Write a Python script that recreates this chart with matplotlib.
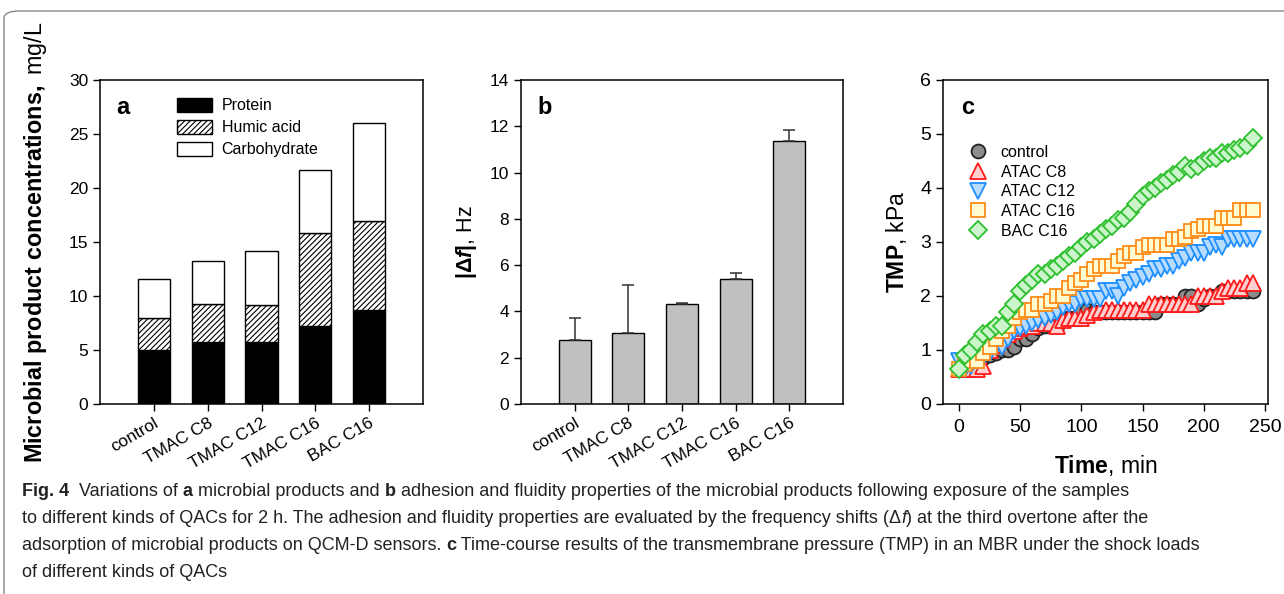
import matplotlib
matplotlib.use("Agg")
import matplotlib.pyplot as plt
from matplotlib.patches import FancyBboxPatch, Patch
import numpy as np

plt.rcParams['font.family'] = ['Liberation Sans', 'DejaVu Sans']
plt.rcParams['mathtext.fontset'] = 'custom'
plt.rcParams['mathtext.bf'] = 'Liberation Sans:bold'
plt.rcParams['mathtext.rm'] = 'Liberation Sans'
plt.rcParams['mathtext.it'] = 'Liberation Sans:italic:bold'
plt.rcParams['hatch.linewidth'] = 0.8

# ---------------- data ----------------
categories = ["control", "TMAC C8", "TMAC C12", "TMAC C16", "BAC C16"]
protein = [5.0, 5.7, 5.75, 7.25, 8.75]
humic = [3.0, 3.6, 3.45, 8.55, 8.15]
carbohydrate = [3.55, 3.9, 5.0, 5.9, 9.1]

df_vals = [2.75, 3.05, 4.3, 5.42, 11.35]
df_err = [0.95, 2.1, 0.05, 0.26, 0.5]

time_min = list(range(0, 245, 5))
tmp_control = [0.65, 0.7, 0.75, 0.8, 0.85, 0.9, 0.95, 1.0, 1.0, 1.05,
               1.2, 1.2, 1.3, 1.4, 1.45, 1.45, 1.45, 1.6, 1.6, 1.6,
               1.75, 1.75, 1.7, 1.7, 1.7, 1.7, 1.7, 1.7, 1.7, 1.7,
               1.7, 1.7, 1.7, 1.85, 1.85, 1.85, 1.85, 2.0, 2.0, 1.85,
               1.95, 2.0, 2.0, 2.1, 2.1, 2.1, 2.1, 2.1, 2.1]
tmp_atac_c8 = [0.65, 0.65, 0.65, 0.65, 0.7, 1.0, 1.1, 1.2, 1.3, 1.35,
               1.4, 1.45, 1.45, 1.5, 1.5, 1.5, 1.45, 1.55, 1.6, 1.6,
               1.6, 1.65, 1.7, 1.75, 1.75, 1.75, 1.75, 1.75, 1.75, 1.75,
               1.75, 1.85, 1.85, 1.85, 1.85, 1.85, 1.85, 1.85, 1.85, 2.0,
               2.0, 2.0, 2.0, 2.1, 2.15, 2.15, 2.15, 2.25, 2.25]
tmp_atac_c12 = [0.8, 0.65, 0.7, 0.8, 0.85, 0.95, 1.05, 1.05, 1.2, 1.35,
                1.4, 1.45, 1.5, 1.55, 1.6, 1.65, 1.7, 1.8, 1.85, 1.85,
                1.95, 1.95, 1.95, 1.95, 2.1, 2.1, 2.0, 2.15, 2.25, 2.3,
                2.35, 2.4, 2.5, 2.5, 2.55, 2.55, 2.65, 2.7, 2.8, 2.8,
                2.8, 2.9, 2.95, 2.9, 3.05, 3.05, 3.05, 3.05, 3.05]
tmp_atac_c16 = [0.65, 0.75, 0.8, 0.8, 0.95, 1.05, 1.2, 1.35, 1.45, 1.6,
                1.7, 1.75, 1.75, 1.85, 1.85, 1.9, 2.0, 2.0, 2.15, 2.25,
                2.3, 2.4, 2.5, 2.55, 2.55, 2.55, 2.65, 2.75, 2.8, 2.8,
                2.9, 2.95, 2.95, 2.95, 2.95, 3.05, 3.05, 3.1, 3.2, 3.25,
                3.3, 3.3, 3.3, 3.45, 3.45, 3.45, 3.6, 3.6, 3.6]
tmp_bac_c16 = [0.65, 0.9, 1.0, 1.15, 1.3, 1.35, 1.45, 1.45, 1.7, 1.85,
               2.1, 2.2, 2.3, 2.4, 2.4, 2.5, 2.55, 2.65, 2.75, 2.8,
               2.9, 3.0, 3.05, 3.15, 3.25, 3.3, 3.4, 3.45, 3.55, 3.7,
               3.85, 3.95, 4.0, 4.1, 4.15, 4.25, 4.3, 4.4, 4.35, 4.4,
               4.5, 4.55, 4.55, 4.65, 4.65, 4.7, 4.75, 4.8, 4.92]

series_labels = ["control", "ATAC C8", "ATAC C12", "ATAC C16", "BAC C16"]

# ---------------- figure ----------------
fig = plt.figure(figsize=(12.84, 5.94), dpi=100)

# card frame
frame = FancyBboxPatch((4 / 1284, -0.05), 1.2, 1.0 - 11 / 594 + 0.05,
                       boxstyle="round,pad=0,rounding_size=0.012",
                       transform=fig.transFigure, fill=False,
                       edgecolor="#888888", linewidth=1.0, zorder=0)
fig.patches.append(frame)

bottom = 1 - 404 / 594
height = 324 / 594
axA = fig.add_axes([100 / 1284, bottom, 323 / 1284, height])
axB = fig.add_axes([521 / 1284, bottom, 322 / 1284, height])
axC = fig.add_axes([943 / 1284, bottom, 325 / 1284, height])

x = np.arange(len(categories))
bw = 0.6
tick_fs = 12.5

def style(ax):
    ax.tick_params(direction='out', length=5, width=1, labelsize=tick_fs)
    for s in ax.spines.values():
        s.set_linewidth(1.1)

# ----- panel a -----
axA.bar(x, protein, bw, color='black', edgecolor='black', lw=1, label='Protein')
axA.bar(x, humic, bw, bottom=protein, color='white', edgecolor='black',
        hatch='//////', lw=1, label='Humic acid')
bot2 = [p + h for p, h in zip(protein, humic)]
axA.bar(x, carbohydrate, bw, bottom=bot2, color='white', edgecolor='black',
        lw=1, label='Carbohydrate')
axA.set_xlim(-1, 5)
axA.set_ylim(0, 30)
axA.set_yticks(range(0, 31, 5))
axA.set_xticks(x)
axA.set_xticklabels(categories, rotation=30, ha='right', rotation_mode='anchor',
                    fontsize=12.5)
style(axA)
axA.set_ylabel(r'$\mathbf{Microbial\ product\ concentrations,}$ mg/L',
               fontsize=16.8, labelpad=14)
axA.text(0.05, 0.95, 'a', transform=axA.transAxes, fontsize=17,
         fontweight='bold', va='top')
handlesA = [Patch(facecolor='black', edgecolor='black', label='Protein'),
            Patch(facecolor='white', edgecolor='black', hatch='//////', label='Humic acid'),
            Patch(facecolor='white', edgecolor='black', label='Carbohydrate')]
axA.legend(handles=handlesA, loc='upper left', bbox_to_anchor=(0.218, 0.965),
           frameon=False, fontsize=11.5, handlelength=2.2, handleheight=1.0,
           labelspacing=0.4, handletextpad=0.6, borderaxespad=0)

# ----- panel b -----
axB.bar(x, df_vals, bw, color='#c0c0c0', edgecolor='black', lw=1)
axB.errorbar(x, df_vals, yerr=[[0] * len(df_err), df_err], fmt='none',
             ecolor='#333333', elinewidth=1.1, capsize=4.5, capthick=1.1)
axB.set_xlim(-1, 5)
axB.set_ylim(0, 14)
axB.set_yticks(range(0, 15, 2))
axB.set_xticks(x)
axB.set_xticklabels(categories, rotation=30, ha='right', rotation_mode='anchor',
                    fontsize=12.5)
style(axB)
axB.set_ylabel(r'$\mathbf{|\Delta}\mathit{f}\mathbf{|}$, Hz', fontsize=15.5, labelpad=8)
axB.text(0.05, 0.95, 'b', transform=axB.transAxes, fontsize=17,
         fontweight='bold', va='top')

# ----- panel c -----
styles = [
    dict(marker='o', mfc='#8c8c8c', mec='#222222'),
    dict(marker='^', mfc='#ffd0d0', mec='#ff1a1a'),
    dict(marker='v', mfc='#b8dcff', mec='#1e8fff'),
    dict(marker='s', mfc='#fffbd0', mec='#ff8c1a'),
    dict(marker='D', mfc='#ccf5cc', mec='#2ec02e'),
]
all_series = [tmp_control, tmp_atac_c8, tmp_atac_c12, tmp_atac_c16, tmp_bac_c16]
sizes = [10, 11, 11, 10, 9]
for ys, st, lab, ms in zip(all_series, styles, series_labels, sizes):
    axC.plot(time_min, ys, linestyle='none', markersize=ms, mew=1.3,
             label=lab, **st)
axC.set_xlim(-13, 252.5)
axC.set_ylim(0, 6)
axC.set_xticks(range(0, 251, 50))
axC.set_yticks(range(0, 7))
style(axC)
axC.tick_params(axis='x', labelsize=14, pad=6)
axC.tick_params(axis='y', labelsize=14)
axC.set_xlabel(r'$\mathbf{Time}$, min', fontsize=16.5, labelpad=12)
axC.set_ylabel(r'$\mathbf{TMP}$, kPa', fontsize=16.5, labelpad=8)
axC.text(0.055, 0.95, 'c', transform=axC.transAxes, fontsize=17,
         fontweight='bold', va='top')
axC.legend(loc='upper left', bbox_to_anchor=(0.06, 0.82), frameon=False,
           fontsize=11.5, handletextpad=0.8, labelspacing=0.3,
           borderaxespad=0, handlelength=1.2)

# ----- caption -----
cap_fam = ['Liberation Sans Narrow', 'Liberation Sans', 'DejaVu Sans']
cap_fs = 13.0
lines = [
    [("Fig. 4", True), ("  Variations of ", False), ("a", True),
     (" microbial products and ", False), ("b", True),
     (" adhesion and fluidity properties of the microbial products following exposure of the samples", False)],
    [("to different kinds of QACs for 2 h. The adhesion and fluidity properties are evaluated by the frequency shifts (\u0394", False),
     ("f", 'it'), (") at the third overtone after the", False)],
    [("adsorption of microbial products on QCM-D sensors. ", False), ("c", True),
     (" Time-course results of the transmembrane pressure (TMP) in an MBR under the shock loads", False)],
    [("of different kinds of QACs", False)],
]
y0 = 1 - 492 / 594
dy = 26.7 / 594
fig.canvas.draw()
renderer = fig.canvas.get_renderer()
for i, parts in enumerate(lines):
    xpos = 22 / 1284
    for txt, sty in parts:
        kw = dict(fontsize=cap_fs, family=cap_fam, color='#222222', va='center')
        if sty is True:
            kw['fontweight'] = 'bold'
        elif sty == 'it':
            kw['style'] = 'italic'
        t = fig.text(xpos, y0 - i * dy, txt, **kw)
        bb = t.get_window_extent(renderer=renderer)
        xpos += bb.width / fig.bbox.width

fig.savefig('out.png', dpi=100)
